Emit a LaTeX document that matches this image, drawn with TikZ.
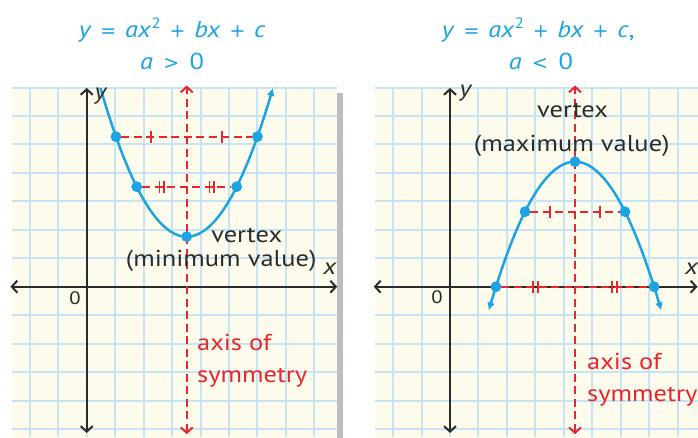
\documentclass[tikz,border=0pt]{standalone}
\usepackage{fontspec}
\setmainfont{PT Sans}[FakeStretch=1.15]
\newfontfamily\opfont{DejaVu Sans}
\usetikzlibrary{arrows.meta,calc}
\definecolor{gridblue}{HTML}{C6E4F6}
\definecolor{paper}{HTML}{FDFCEC}
\definecolor{curveblue}{HTML}{1CA3E3}
\definecolor{symred}{HTML}{E8262E}
\definecolor{axisgray}{HTML}{2B2B2B}
\definecolor{shadowgray}{HTML}{BDBDBD}
\newcommand{\op}[1]{\hspace{0.38em}{\opfont\fontsize{19}{23}\selectfont #1}\hspace{0.38em}}
\newcommand{\rel}[1]{\hspace{0.45em}{\opfont\fontsize{19}{23}\selectfont #1}\hspace{0.45em}}
\newcommand{\sqr}{\raisebox{0.42em}{\fontsize{15}{15}\selectfont 2}}
\tikzset{
  barb/.tip={Straight Barb[length=5.5pt,width=12pt,line width=2pt]},
  axisline/.style={draw=axisgray, line width=2pt, barb-barb},
  symline/.style={draw=symred, line width=1.8pt, dash pattern=on 8pt off 4.5pt, barb-barb},
  halfline/.style={draw=symred, line width=1.8pt, dash pattern=on 8pt off 4.5pt},
  curve/.style={draw=curveblue, line width=2.5pt},
  dot/.style={circle, fill=curveblue, inner sep=0pt, minimum size=10.5pt},
  lbl/.style={text=axisgray, font=\fontsize{23}{27}\selectfont, inner sep=1pt},
  zerolbl/.style={text=axisgray, font=\fontsize{18}{22}\selectfont, inner sep=1pt},
  axlbl/.style={text=axisgray, font=\fontsize{23}{27}\selectfont\itshape, inner sep=1pt},
  redlbl/.style={text=symred, font=\fontsize{23}{27}\selectfont, anchor=west, inner sep=0pt},
  titlelbl/.style={text=curveblue, font=\fontsize{23}{27}\selectfont, inner sep=0pt},
  onetick/.pic={\draw[symred,line width=1.9pt] (0,-6pt) -- (0,6pt);},
  twotick/.pic={\draw[symred,line width=1.7pt] (-2.3pt,-6pt) -- (-2.3pt,6pt) (2.3pt,-6pt) -- (2.3pt,6pt);},
}
\begin{document}
\begin{tikzpicture}[x=25pt,y=25pt]
\useasboundingbox (-3.468,-6.012) rectangle (24.452,11.468);

% ---------- titles ----------
\node[titlelbl] (t1) at (3.42,10.27) {\textit{y}\op{=}\textit{ax}\sqr\op{+}\textit{bx}\op{+}\textit{c}};
\node[titlelbl] (t2) at (3.42,9.0) {\textit{a}\rel{>}0};
\node[titlelbl] (t3) at (18.06,10.27) {\textit{y}\op{=}\textit{ax}\sqr\op{+}\textit{bx}\op{+}\textit{c},};
\node[titlelbl] (t4) at (18.17,9.0) {\textit{a}\rel{<}0};

% ---------- left panel ----------
\begin{scope}
  \fill[shadowgray] (10,-6.2) rectangle (10.24,7.75);
  \fill[paper] (-3,-6.2) rectangle (10,8);
  \draw[gridblue, line width=2pt] (-3,-6) grid (10,8);
  \coordinate (lxl) at (-3.05,0);
  \coordinate (lxr) at (10.02,0);
  \coordinate (lyb) at (0,-5.85);
  \coordinate (lyt) at (0,7.95);
  \coordinate (lsb) at (4,-5.9);
  \coordinate (lst) at (4,8.05);
  \draw[axisline] (lxl) -- (lxr);
  \draw[axisline] (lyb) -- (lyt);
  \draw[symline] (lsb) -- (lst);
  \node[dot] (la) at (1.172,6) {};
  \node[dot] (lb) at (6.828,6) {};
  \node[dot] (lc) at (2,4) {};
  \node[dot] (ld) at (6,4) {};
  \node[dot] (lv) at (4,2) {};
  \draw[halfline] (la) -- (lb);
  \draw[halfline] (lc) -- (ld);
  \pic at ($(la)!0.25!(lb)$) {onetick};
  \pic at ($(la)!0.75!(lb)$) {onetick};
  \pic at ($(lc)!0.25!(ld)$) {twotick};
  \pic at ($(lc)!0.75!(ld)$) {twotick};
  \draw[curve, -{Latex[length=8pt,width=8pt]}] plot[domain=0.55:7.45, samples=60, smooth] (\x,{0.5*(\x-4)*(\x-4)+2});
  \node[dot] at (la) {};
  \node[dot] at (lb) {};
  \node[dot] at (lc) {};
  \node[dot] at (ld) {};
  \node[dot] at (lv) {};
  \node[axlbl] (ly) at (0.55,7.62) {y};
  \node[axlbl] (lx) at (9.72,0.72) {x};
  \node[zerolbl] (l0) at (-0.47,-0.45) {0};
  \node[lbl] (lvt) at (6.4,2.03) {vertex};
  \node[lbl] (lvm) at (5.38,1.03) {(minimum value)};
  \node[redlbl] (la1) at (4.41,-2.25) {axis of};
  \node[redlbl] (la2) at (4.41,-3.62) {symmetry};
\end{scope}

% ---------- right panel ----------
\begin{scope}[xshift=14.532*25pt]
  \fill[paper] (-3,-6.2) rectangle (10,8);
  \draw[gridblue, line width=2pt] (-3,-6) grid (10,8);
  \coordinate (rxl) at (-3.05,0);
  \coordinate (rxr) at (9.9,0);
  \coordinate (ryb) at (0,-5.85);
  \coordinate (ryt) at (0,7.95);
  \coordinate (rsb) at (5,-5.9);
  \coordinate (rst) at (5,8.05);
  \draw[axisline] (rxl) -- (rxr);
  \draw[axisline] (ryb) -- (ryt);
  \draw[symline] (rsb) -- (rst);
  \node[dot] (ra) at (3,3) {};
  \node[dot] (rb) at (7,3) {};
  \node[dot] (rc) at (1.838,0) {};
  \node[dot] (rd) at (8.162,0) {};
  \node[dot] (rv) at (5,5) {};
  \draw[halfline] (ra) -- (rb);
  \draw[halfline] (rc) -- (rd);
  \pic at ($(ra)!0.25!(rb)$) {onetick};
  \pic at ($(ra)!0.75!(rb)$) {onetick};
  \pic at ($(rc)!0.25!(rd)$) {twotick};
  \pic at ($(rc)!0.75!(rd)$) {twotick};
  \draw[curve, {Latex[length=8pt,width=8pt]}-{Latex[length=8pt,width=8pt]}] plot[domain=1.55:8.45, samples=60, smooth] (\x,{5-0.5*(\x-5)*(\x-5)});
  \node[dot] at (ra) {};
  \node[dot] at (rb) {};
  \node[dot] at (rc) {};
  \node[dot] at (rd) {};
  \node[dot] at (rv) {};
  \node[axlbl] (ry) at (0.62,7.75) {y};
  \node[axlbl] (rx) at (9.66,0.72) {x};
  \node[zerolbl] (r0) at (-0.52,-0.41) {0};
  \node[lbl] (rvt) at (4.9,7.05) {vertex};
  \node[lbl] (rvm) at (4.87,5.65) {(maximum value)};
  \node[redlbl] (ra1) at (5.48,-3.0) {axis of};
  \node[redlbl] (ra2) at (5.48,-4.4) {symmetry};
\end{scope}
\end{tikzpicture}
\end{document}
